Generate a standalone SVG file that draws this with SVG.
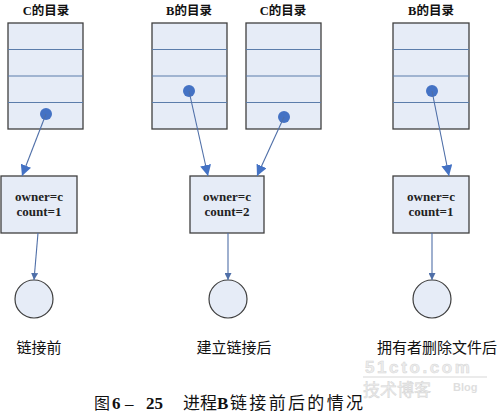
<svg xmlns="http://www.w3.org/2000/svg" width="501" height="414" viewBox="0 0 501 414">
<defs>
<style>
.box{fill:#e6ecf7;stroke:#3f3f3f;stroke-width:1.3}
.row{stroke:#5b7dab;stroke-width:1}
.dot{fill:#4472c4}
.ttl{font-family:"Liberation Serif","Noto Sans CJK SC",serif;font-size:12.5px;font-weight:bold;fill:#111;text-anchor:middle}
.nt{font-family:"Liberation Serif","Noto Sans CJK SC",serif;font-size:13px;font-weight:bold;fill:#222;text-anchor:middle}
.lbl{font-family:"Noto Sans CJK SC",sans-serif;font-size:15px;fill:#111;text-anchor:middle}
.cap{font-family:"Liberation Serif","Noto Sans CJK SC",serif;font-size:17px;fill:#111}
.ln{stroke:#4f6fa8;stroke-width:1.1;fill:none}
.circ{fill:#e6ecf7;stroke:#3f3f3f;stroke-width:1.2}
</style>
<marker id="ah" viewBox="0 0 10 10" refX="10" refY="5" markerWidth="11" markerHeight="11" markerUnits="userSpaceOnUse" orient="auto"><path d="M0,0 L10,5 L0,10 z" fill="#4472c4"/></marker>
<marker id="ahs" viewBox="0 0 10 10" refX="10" refY="5" markerWidth="7" markerHeight="7" markerUnits="userSpaceOnUse" orient="auto"><path d="M0,0 L10,5 L0,10 z" fill="#4f6fa8"/></marker>
</defs>
<rect width="501" height="414" fill="#fff"/>

<g id="dirC1">
<text class="ttl" x="46" y="15">C的目录</text>
<rect class="box" x="8" y="23" width="75" height="106"/>
<line class="row" x1="8" y1="49.5" x2="83" y2="49.5"/>
<line class="row" x1="8" y1="76" x2="83" y2="76"/>
<line class="row" x1="8" y1="102.5" x2="83" y2="102.5"/>
<circle class="dot" cx="46" cy="114" r="6"/>
</g>
<g id="dirB2">
<text class="ttl" x="189" y="15">B的目录</text>
<rect class="box" x="152" y="23" width="75" height="106"/>
<line class="row" x1="152" y1="49.5" x2="227" y2="49.5"/>
<line class="row" x1="152" y1="76" x2="227" y2="76"/>
<line class="row" x1="152" y1="102.5" x2="227" y2="102.5"/>
<circle class="dot" cx="189" cy="91" r="6"/>
</g>
<g id="dirC2">
<text class="ttl" x="283" y="15">C的目录</text>
<rect class="box" x="246" y="23" width="75" height="106"/>
<line class="row" x1="246" y1="49.5" x2="321" y2="49.5"/>
<line class="row" x1="246" y1="76" x2="321" y2="76"/>
<line class="row" x1="246" y1="102.5" x2="321" y2="102.5"/>
<circle class="dot" cx="284" cy="117" r="6"/>
</g>
<g id="dirB3">
<text class="ttl" x="431" y="15">B的目录</text>
<rect class="box" x="393" y="23" width="76" height="106"/>
<line class="row" x1="393" y1="49.5" x2="469" y2="49.5"/>
<line class="row" x1="393" y1="76" x2="469" y2="76"/>
<line class="row" x1="393" y1="102.5" x2="469" y2="102.5"/>
<circle class="dot" cx="432" cy="91" r="6"/>
</g>

<g id="inode1">
<rect class="box" x="1" y="176" width="76" height="57"/>
<text class="nt" x="39" y="201">owner=c</text>
<text class="nt" x="39" y="216">count=1</text>
</g>
<g id="inode2">
<rect class="box" x="190" y="176" width="74" height="57"/>
<text class="nt" x="227" y="201">owner=c</text>
<text class="nt" x="227" y="216">count=2</text>
</g>
<g id="inode3">
<rect class="box" x="393" y="176" width="76" height="57"/>
<text class="nt" x="431" y="201">owner=c</text>
<text class="nt" x="431" y="216">count=1</text>
</g>

<g id="file1"><circle class="circ" cx="34" cy="299" r="19"/></g>
<g id="file2"><circle class="circ" cx="228" cy="299" r="19"/></g>
<g id="file3"><circle class="circ" cx="432" cy="299" r="19"/></g>

<g id="connectors">
<line class="ln" x1="46" y1="114" x2="22" y2="176" marker-end="url(#ah)"/>
<line class="ln" x1="189" y1="91" x2="208" y2="176" marker-end="url(#ah)"/>
<line class="ln" x1="284" y1="117" x2="257" y2="176" marker-end="url(#ah)"/>
<line class="ln" x1="432" y1="91" x2="449" y2="176" marker-end="url(#ah)"/>
<line class="ln" x1="38" y1="233" x2="34" y2="280" marker-end="url(#ahs)"/>
<line class="ln" x1="228" y1="233" x2="228" y2="280" marker-end="url(#ahs)"/>
<line class="ln" x1="432" y1="233" x2="432" y2="280" marker-end="url(#ahs)"/>
</g>

<g id="watermark" font-family="'Liberation Sans',sans-serif">
<text x="365" y="373" font-size="17" font-weight="bold" letter-spacing="2.6" fill="#ededed" stroke="#d6d6d6" stroke-width="0.5">51cto.com</text>
<line x1="363" y1="377" x2="487" y2="377" stroke="#d8d8d8" stroke-width="1.2"/>
<text x="363" y="396" font-size="17" font-family="'Noto Sans CJK SC',sans-serif" fill="#ededed" stroke="#d6d6d6" stroke-width="0.5">技术博客</text>
<text x="453" y="391" font-size="11" font-weight="bold" fill="#dedede">Blog</text>
</g>

<g id="labels">
<text class="lbl" x="39" y="353">链接前</text>
<text class="lbl" x="234" y="353">建立链接后</text>
<text class="lbl" x="437" y="353">拥有者删除文件后</text>
</g>

<text class="cap" y="409"><tspan x="94" font-family="'Noto Sans CJK SC',sans-serif" font-size="16">图</tspan><tspan x="112" font-weight="bold">6</tspan><tspan x="125">–</tspan><tspan x="146" font-weight="bold">25</tspan><tspan x="183" font-family="'Noto Sans CJK SC',sans-serif">进程</tspan><tspan x="217" font-weight="bold">B</tspan><tspan x="230" font-family="'Noto Sans CJK SC',sans-serif" textLength="133">链接前后的情况</tspan></text>
</svg>
